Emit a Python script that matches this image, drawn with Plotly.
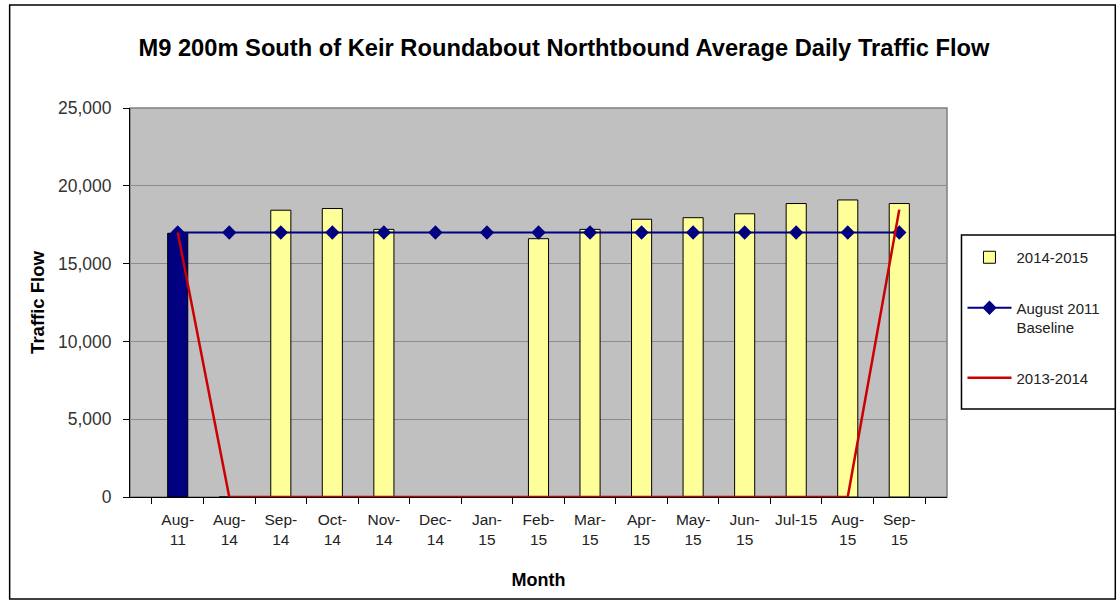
import plotly.graph_objects as go

months = ["Aug-<br>11", "Aug-<br>14", "Sep-<br>14", "Oct-<br>14", "Nov-<br>14", "Dec-<br>14",
          "Jan-<br>15", "Feb-<br>15", "Mar-<br>15", "Apr-<br>15", "May-<br>15", "Jun-<br>15",
          "Jul-15", "Aug-<br>15", "Sep-<br>15"]
flow_2014_2015 = [16950, 0, 18430, 18540, 17200, 0, 0, 16600, 17200, 17850, 17950, 18200, 18860, 19090, 18860]
baseline_2011 = [17000] * 15
flow_2013_2014 = [17000, 0, 0, 0, 0, 0, 0, 0, 0, 0, 0, 0, 0, 0, 18470]

W, H = 1119, 601
PL, PR, PT, PB = 129.5, 947.5, 108, 497


def px(x):
    """page x pixel -> paper coordinate"""
    return (x - PL) / (PR - PL)


def py(y):
    """page y pixel -> paper coordinate"""
    return (PB - y) / (PB - PT)


fig = go.Figure()
fig.add_trace(go.Bar(
    x=months[:1], y=flow_2014_2015[:1], name="2014-2015", showlegend=False,
    marker=dict(color="#000080", line=dict(color="#000000", width=1)),
    width=0.39,
))
fig.add_trace(go.Bar(
    x=months[1:], y=flow_2014_2015[1:], name="2014-2015",
    marker=dict(color="#FFFF99", line=dict(color="#000000", width=1)),
    width=0.39, legendgroup="a",
))
fig.add_trace(go.Scatter(
    x=months, y=baseline_2011, name="August 2011<br>Baseline", mode="lines+markers",
    line=dict(color="#000080", width=2),
    marker=dict(symbol="diamond", size=11, color="#000080"),
    legendgroup="b", cliponaxis=False,
))
fig.add_trace(go.Scatter(
    x=months, y=flow_2013_2014, name="2013-2014", mode="lines",
    line=dict(color="#CC0000", width=2.5),
    legendgroup="c", cliponaxis=False,
))

fig.update_layout(
    width=W, height=H,
    margin=dict(l=PL, r=W - PR, t=PT, b=H - PB),
    paper_bgcolor="#FFFFFF",
    plot_bgcolor="#C0C0C0",
    barmode="overlay",
    font=dict(family="Liberation Sans, Arial, sans-serif", size=14, color="#000000"),
    title=dict(text="<b>M9 200m South of Keir Roundabout Northtbound Average Daily Traffic Flow</b>",
               x=px(564), xref="paper", xanchor="center", y=1 - 48 / H, yanchor="middle",
               font=dict(size=23.7, color="#000000")),
    showlegend=True,
    legend=dict(x=px(963), y=py(241), xanchor="left", yanchor="top",
                borderwidth=0, bgcolor="rgba(0,0,0,0)", valign="top",
                font=dict(size=15, color="#222222"), tracegroupgap=28, itemwidth=44),
    xaxis=dict(
        title=dict(text="<b>Month</b>", font=dict(size=18), standoff=26),
        showline=True, linecolor="#000000", linewidth=1, mirror=False,
        ticks="outside", ticklen=6, tickcolor="#000000", tickson="boundaries",
        showgrid=False, tickfont=dict(size=15.5, color="#222222"),
        tickangle=0, layer="below traces", ticklabelstandoff=8,
    ),
    yaxis=dict(
        title=dict(text="<b>Traffic Flow</b>", font=dict(size=18.5), standoff=8),
        range=[0, 25000], dtick=5000, tickformat=",",
        showline=True, linecolor="#000000", linewidth=1,
        ticks="outside", ticklen=6, tickcolor="#000000",
        showgrid=True, gridcolor="#8C8C8C", gridwidth=1,
        zeroline=False, tickfont=dict(size=17.5, color="#333333"),
        layer="below traces", ticklabelstandoff=8,
    ),
    shapes=[
        # outer chart border
        dict(type="rect", xref="paper", yref="paper",
             x0=px(9), x1=px(1116), y0=py(599), y1=py(5),
             line=dict(color="#000000", width=1.5), fillcolor="rgba(0,0,0,0)", layer="below"),
        # plot area frame
        dict(type="rect", xref="paper", yref="paper",
             x0=0, x1=1, y0=0, y1=1,
             line=dict(color="#808080", width=1.5), fillcolor="rgba(0,0,0,0)", layer="below"),
        # legend frame
        dict(type="rect", xref="paper", yref="paper",
             x0=px(962), x1=px(1116), y0=py(409), y1=py(235),
             line=dict(color="#000000", width=1.5), fillcolor="#FFFFFF", layer="below"),
    ],
)

fig.write_html(
    "out.html",
    config={"displayModeBar": False},
    post_script="document.body.style.margin='0';document.body.style.overflow='hidden';",
)
